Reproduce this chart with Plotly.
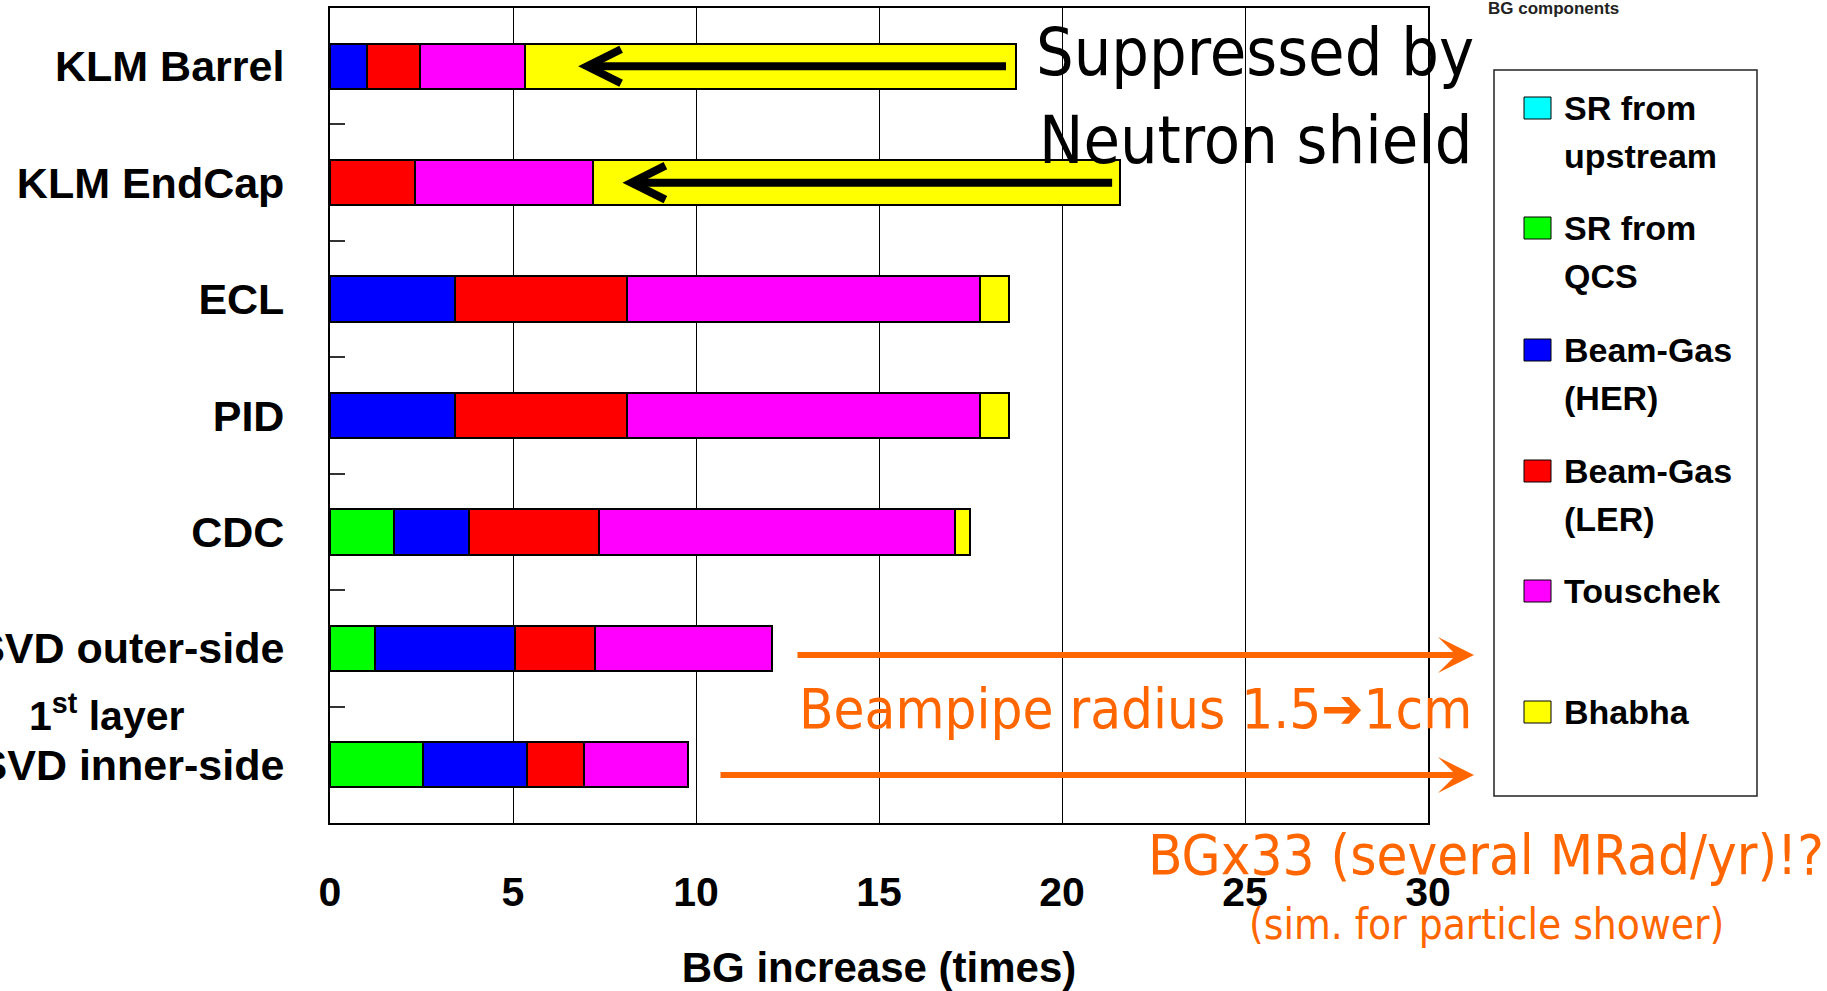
import plotly.graph_objects as go

# ---- data -------------------------------------------------------------
categories = ["KLM Barrel", "KLM EndCap", "ECL", "PID", "CDC",
              "SVD outer-side", "SVD inner-side"]

sr_upstream = [0, 0, 0, 0, 0, 0, 0]
sr_qcs = [0, 0, 0, 0, 1.75, 1.23, 2.53]
beamgas_her = [1.02, 0, 3.41, 3.41, 2.05, 3.83, 2.86]
beamgas_ler = [1.43, 2.32, 4.71, 4.71, 3.54, 2.18, 1.55]
touschek = [2.88, 4.86, 9.65, 9.65, 9.73, 4.83, 2.85]
bhabha = [13.4, 14.4, 0.77, 0.77, 0.41, 0, 0]

component_names = ["SR from upstream", "SR from QCS", "Beam-Gas (HER)",
                   "Beam-Gas (LER)", "Touschek", "Bhabha"]
legend_lines = [["SR from", "upstream"], ["SR from", "QCS"],
                ["Beam-Gas", "(HER)"], ["Beam-Gas", "(LER)"],
                ["Touschek"], ["Bhabha"]]
component_colors = ["#00FFFF", "#00FF00", "#0000FF", "#FF0000", "#FF00FF", "#FFFF00"]
series = [sr_upstream, sr_qcs, beamgas_her, beamgas_ler, touschek, bhabha]

x_ticks = [0, 5, 10, 15, 20, 25, 30]

# arrows showing the Bhabha part removed by the neutron shield (x from, x to)
shield_arrows = {"KLM Barrel": (18.47, 6.97), "KLM EndCap": (21.37, 8.18)}

# ---- geometry ---------------------------------------------------------
W, H = 1827, 991
L, R, T, B = 330, 1428, 8, 823          # plot-area edges in px


def px_x(px):
    return (px - L) / (R - L)


def px_y(py):
    return (B - py) / (B - T)


SANS = "Liberation Sans, Arial, sans-serif"
NARROW = "Liberation Sans Narrow, Arial Narrow, DejaVu Sans Condensed, sans-serif"
ORANGE = "#FF6600"

fig = go.Figure()

for name, vals, col in zip(component_names, series, component_colors):
    fig.add_trace(go.Bar(
        y=categories, x=vals, orientation="h", name=name,
        marker=dict(color=col, line=dict(color="black", width=2)),
        showlegend=False,
    ))

shapes = []
annotations = []

# black "suppressed" arrows inside the Bhabha segments
for cat, (x_from, x_to) in shield_arrows.items():
    yi = categories.index(cat)
    shapes.append(dict(type="line", xref="x", yref="y", x0=x_from, x1=x_to + 0.1,
                       y0=yi, y1=yi, line=dict(color="black", width=8)))
    shapes.append(dict(type="path", xref="x", yref="y",
                       xsizemode="pixel", ysizemode="pixel",
                       xanchor=x_to, yanchor=yi,
                       path="M 36 17 L 2 0 L 36 -17",
                       line=dict(color="black", width=8)))

# legend box
shapes.append(dict(type="rect", xref="paper", yref="paper",
                   x0=px_x(1494), x1=px_x(1757), y0=px_y(796), y1=px_y(70),
                   line=dict(color="#222", width=1.5), fillcolor="white", layer="below"))
legend_rows = [108, 228, 350, 471, 591, 712]
for lines, col, cy in zip(legend_lines, component_colors, legend_rows):
    shapes.append(dict(type="rect", xref="paper", yref="paper",
                       x0=px_x(1524), x1=px_x(1551),
                       y0=px_y(cy + 11), y1=px_y(cy - 11),
                       fillcolor=col, line=dict(color="black", width=1)))
    for k, ln in enumerate(lines):
        annotations.append(dict(text=ln, xref="paper", yref="paper",
                                x=px_x(1562), y=px_y(cy + 48 * k),
                                xanchor="left", yanchor="middle", showarrow=False,
                                font=dict(family=SANS, size=34, color="black",
                                          weight="bold")))

annotations.append(dict(text="BG components", xref="paper", yref="paper",
                        x=px_x(1553), y=px_y(9), xanchor="center", yanchor="middle",
                        showarrow=False,
                        font=dict(family=SANS, size=17, color="#222", weight="bold")))

# second line of the SVD inner-side label
annotations.append(dict(text="1<sup>st</sup> layer", xref="paper", yref="paper",
                        x=px_x(107), y=px_y(713), xanchor="center", yanchor="middle",
                        showarrow=False,
                        font=dict(family=SANS, size=41, color="black", weight="bold")))

# neutron-shield note
for txt, cy in [("Suppressed by", 52), ("Neutron shield", 141)]:
    annotations.append(dict(text=txt, xref="paper", yref="paper",
                            x=px_x(1255), y=px_y(cy), xanchor="center", yanchor="middle",
                            showarrow=False,
                            font=dict(family=NARROW, size=66, color="black")))

# beampipe arrows
for tail, cy in [(796, 655), (719, 775)]:
    annotations.append(dict(text="", xref="paper", yref="paper",
                            x=px_x(1474), y=px_y(cy), axref="pixel", ayref="pixel",
                            ax=tail - 1474, ay=0, showarrow=True,
                            arrowhead=3, arrowsize=1, arrowwidth=6,
                            arrowcolor=ORANGE))

annotations.append(dict(text="Beampipe radius 1.5\u27941cm", xref="paper", yref="paper",
                        x=px_x(1474), y=px_y(708), xanchor="right", yanchor="middle",
                        showarrow=False,
                        font=dict(family=NARROW, size=56, color=ORANGE)))
annotations.append(dict(text="BGx33 (several MRad/yr)!?", xref="paper", yref="paper",
                        x=px_x(1486), y=px_y(854), xanchor="center", yanchor="middle",
                        showarrow=False,
                        font=dict(family=NARROW, size=56, color=ORANGE)))
annotations.append(dict(text="(sim. for particle shower)", xref="paper", yref="paper",
                        x=px_x(1486), y=px_y(924), xanchor="center", yanchor="middle",
                        showarrow=False,
                        font=dict(family=NARROW, size=42, color=ORANGE)))

fig.update_layout(
    width=W, height=H,
    margin=dict(l=L, r=W - R, t=T, b=H - B, autoexpand=False),
    paper_bgcolor="white", plot_bgcolor="white",
    barmode="stack", bargap=0.61,
    shapes=shapes, annotations=annotations,
    xaxis=dict(range=[0, 30], tickvals=x_ticks, ticks="",
               showgrid=True, gridcolor="black", gridwidth=1, zeroline=False,
               showline=True, mirror=True, linecolor="black", linewidth=2,
               tickfont=dict(family=SANS, size=41, color="black", weight="bold"),
               ticklabelstandoff=32,
               title=dict(text="BG increase (times)", standoff=50,
                          font=dict(family=SANS, size=42, color="black", weight="bold")),
               automargin=False),
    yaxis=dict(categoryorder="array", categoryarray=categories, autorange="reversed",
               showgrid=False, zeroline=False,
               showline=True, mirror=True, linecolor="black", linewidth=2,
               ticks="inside", tickson="boundaries", ticklen=15, tickwidth=2,
               tickcolor="#333",
               tickfont=dict(family=SANS, size=43, color="black", weight="bold"),
               ticklabelstandoff=35, automargin=False),
)

fig.write_html("out.html")
